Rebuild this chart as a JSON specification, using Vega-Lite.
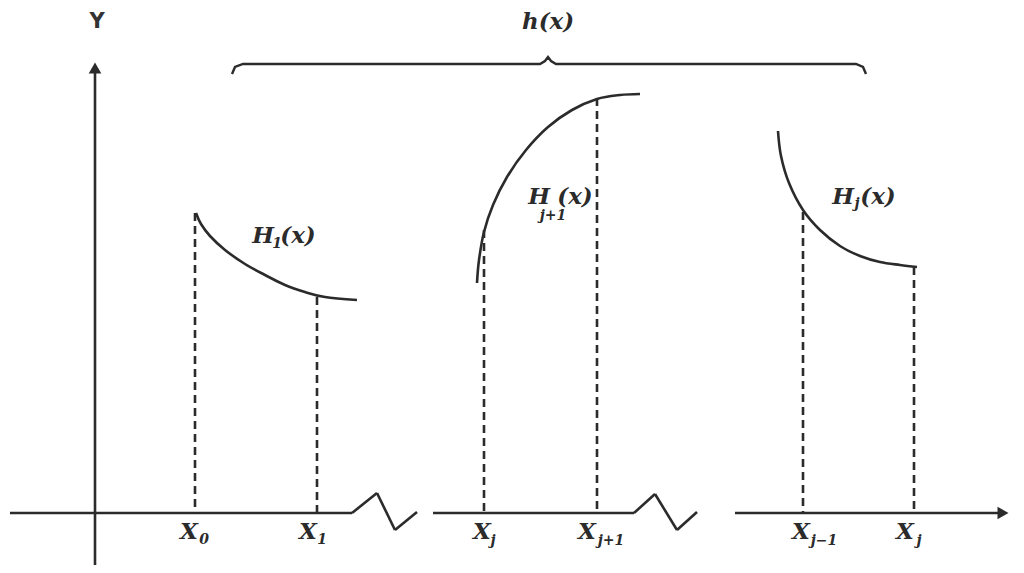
{
  "$schema": "https://vega.github.io/schema/vega-lite/v6.json",
  "width": 1024,
  "height": 573,
  "autosize": {"type": "fit", "contains": "padding"},
  "padding": 0,
  "background": "white",
  "config": {"view": {"stroke": null}},
  "datasets": {
    "solid": [
      {"x": 95, "y": 70, "x2": 95, "y2": 565},
      {"x": 10, "y": 513, "x2": 352, "y2": 513},
      {"x": 352, "y": 513, "x2": 377, "y2": 493},
      {"x": 377, "y": 493, "x2": 395, "y2": 530},
      {"x": 395, "y": 530, "x2": 417, "y2": 512},
      {"x": 433, "y": 513, "x2": 634, "y2": 513},
      {"x": 634, "y": 513, "x2": 655, "y2": 494},
      {"x": 655, "y": 494, "x2": 677, "y2": 530},
      {"x": 677, "y": 530, "x2": 697, "y2": 512},
      {"x": 735, "y": 513, "x2": 1000, "y2": 513}
    ],
    "dashed": [
      {"x": 195, "y": 213, "x2": 195, "y2": 513},
      {"x": 317, "y": 297, "x2": 317, "y2": 513},
      {"x": 484, "y": 230, "x2": 484, "y2": 513},
      {"x": 597, "y": 98, "x2": 597, "y2": 513},
      {"x": 803, "y": 212, "x2": 803, "y2": 513},
      {"x": 914, "y": 267, "x2": 914, "y2": 513}
    ],
    "curves": [
      {"c": "H1", "x": 196, "y": 213},
      {"c": "H1", "x": 201, "y": 224},
      {"c": "H1", "x": 210, "y": 236},
      {"c": "H1", "x": 225, "y": 250},
      {"c": "H1", "x": 245, "y": 264},
      {"c": "H1", "x": 265, "y": 275},
      {"c": "H1", "x": 285, "y": 285},
      {"c": "H1", "x": 305, "y": 292},
      {"c": "H1", "x": 325, "y": 297},
      {"c": "H1", "x": 357, "y": 300},
      {"c": "Hj1", "x": 477, "y": 283},
      {"c": "Hj1", "x": 479, "y": 260},
      {"c": "Hj1", "x": 484, "y": 232},
      {"c": "Hj1", "x": 493, "y": 205},
      {"c": "Hj1", "x": 507, "y": 177},
      {"c": "Hj1", "x": 526, "y": 150},
      {"c": "Hj1", "x": 548, "y": 127},
      {"c": "Hj1", "x": 572, "y": 110},
      {"c": "Hj1", "x": 597, "y": 99},
      {"c": "Hj1", "x": 620, "y": 95},
      {"c": "Hj1", "x": 640, "y": 94},
      {"c": "Hj", "x": 778, "y": 131},
      {"c": "Hj", "x": 781, "y": 156},
      {"c": "Hj", "x": 789, "y": 183},
      {"c": "Hj", "x": 803, "y": 210},
      {"c": "Hj", "x": 820, "y": 230},
      {"c": "Hj", "x": 840, "y": 246},
      {"c": "Hj", "x": 860, "y": 256},
      {"c": "Hj", "x": 880, "y": 262},
      {"c": "Hj", "x": 900, "y": 265},
      {"c": "Hj", "x": 917, "y": 267}
    ],
    "brace": [
      {"i": 0, "x": 232, "y": 74},
      {"i": 1, "x": 235, "y": 67},
      {"i": 2, "x": 243, "y": 64},
      {"i": 3, "x": 540, "y": 64},
      {"i": 4, "x": 545, "y": 61},
      {"i": 5, "x": 548, "y": 57},
      {"i": 6, "x": 551, "y": 61},
      {"i": 7, "x": 556, "y": 64},
      {"i": 8, "x": 856, "y": 64},
      {"i": 9, "x": 863, "y": 67},
      {"i": 10, "x": 866, "y": 74}
    ],
    "main": [
      {"t": "h(x)", "x": 548, "y": 22},
      {"t": "H", "x": 263, "y": 236},
      {"t": "(x)", "x": 298, "y": 236},
      {"t": "H", "x": 539, "y": 197},
      {"t": "(x)", "x": 575, "y": 197},
      {"t": "H", "x": 843, "y": 197},
      {"t": "(x)", "x": 878, "y": 197},
      {"t": "X", "x": 189, "y": 532},
      {"t": "X", "x": 308, "y": 532},
      {"t": "X", "x": 482, "y": 532},
      {"t": "X", "x": 587, "y": 532},
      {"t": "X", "x": 801, "y": 532},
      {"t": "X", "x": 905, "y": 532}
    ],
    "subs": [
      {"t": "1", "x": 277, "y": 244},
      {"t": "j+1", "x": 553, "y": 216},
      {"t": "j", "x": 857, "y": 204},
      {"t": "0", "x": 204, "y": 540},
      {"t": "1", "x": 322, "y": 540},
      {"t": "j", "x": 493, "y": 541},
      {"t": "j+1", "x": 611, "y": 541},
      {"t": "j\u22121", "x": 824, "y": 541},
      {"t": "j", "x": 919, "y": 541}
    ],
    "arrows": [
      {"s": "up", "x": 95, "y": 68},
      {"s": "right", "x": 1003, "y": 513}
    ],
    "ylab": [{"t": "Y", "x": 97, "y": 22}]
  },
  "encoding": {
    "x": {"type": "quantitative", "scale": {"domain": [0, 1024], "nice": false, "zero": false}, "axis": null},
    "y": {"type": "quantitative", "scale": {"domain": [0, 573], "nice": false, "zero": false, "reverse": true}, "axis": null}
  },
  "layer": [
    {
      "data": {"name": "solid"},
      "mark": {"type": "rule", "stroke": "#2b2b2b", "strokeWidth": 2.6},
      "encoding": {
        "x": {"field": "x", "type": "quantitative"},
        "y": {"field": "y", "type": "quantitative"},
        "x2": {"field": "x2"},
        "y2": {"field": "y2"}
      }
    },
    {
      "data": {"name": "dashed"},
      "mark": {"type": "rule", "stroke": "#2b2b2b", "strokeWidth": 2.6, "strokeDash": [8, 5]},
      "encoding": {
        "x": {"field": "x", "type": "quantitative"},
        "y": {"field": "y", "type": "quantitative"},
        "x2": {"field": "x2"},
        "y2": {"field": "y2"}
      }
    },
    {
      "data": {"name": "curves"},
      "mark": {"type": "line", "stroke": "#2b2b2b", "strokeWidth": 2.6, "interpolate": "cardinal"},
      "encoding": {
        "x": {"field": "x", "type": "quantitative"},
        "y": {"field": "y", "type": "quantitative"},
        "detail": {"field": "c", "type": "nominal"}
      }
    },
    {
      "data": {"name": "brace"},
      "mark": {"type": "line", "stroke": "#2b2b2b", "strokeWidth": 2.4},
      "encoding": {
        "x": {"field": "x", "type": "quantitative"},
        "y": {"field": "y", "type": "quantitative"},
        "order": {"field": "i", "type": "quantitative"}
      }
    },
    {
      "data": {"name": "arrows"},
      "transform": [{"filter": "datum.s == 'up'"}],
      "mark": {"type": "point", "shape": "triangle-up", "filled": true, "color": "#2b2b2b", "size": 160, "opacity": 1},
      "encoding": {
        "x": {"field": "x", "type": "quantitative"},
        "y": {"field": "y", "type": "quantitative"}
      }
    },
    {
      "data": {"name": "arrows"},
      "transform": [{"filter": "datum.s == 'right'"}],
      "mark": {"type": "point", "shape": "triangle-right", "filled": true, "color": "#2b2b2b", "size": 160, "opacity": 1},
      "encoding": {
        "x": {"field": "x", "type": "quantitative"},
        "y": {"field": "y", "type": "quantitative"}
      }
    },
    {
      "data": {"name": "main"},
      "mark": {"type": "text", "font": "DejaVu Serif", "fontStyle": "italic", "fontWeight": "bold", "fontSize": 23, "color": "#2b2b2b", "baseline": "middle", "align": "center"},
      "encoding": {
        "x": {"field": "x", "type": "quantitative"},
        "y": {"field": "y", "type": "quantitative"},
        "text": {"field": "t", "type": "nominal"}
      }
    },
    {
      "data": {"name": "subs"},
      "mark": {"type": "text", "font": "DejaVu Serif", "fontStyle": "italic", "fontWeight": "bold", "fontSize": 14, "color": "#2b2b2b", "baseline": "middle", "align": "center"},
      "encoding": {
        "x": {"field": "x", "type": "quantitative"},
        "y": {"field": "y", "type": "quantitative"},
        "text": {"field": "t", "type": "nominal"}
      }
    },
    {
      "data": {"name": "ylab"},
      "mark": {"type": "text", "font": "DejaVu Sans", "fontWeight": "bold", "fontSize": 21, "color": "#333333", "baseline": "middle", "align": "center"},
      "encoding": {
        "x": {"field": "x", "type": "quantitative"},
        "y": {"field": "y", "type": "quantitative"},
        "text": {"field": "t", "type": "nominal"}
      }
    }
  ]
}
